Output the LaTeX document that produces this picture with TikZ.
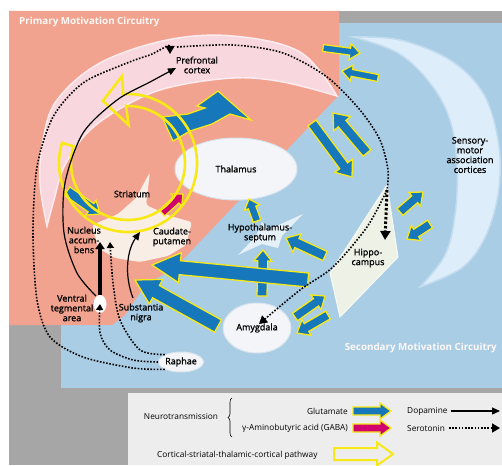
\documentclass[tikz,border=0pt]{standalone}
\usepackage{fontspec}
\setmainfont{Open Sans}
\newfontfamily\lblfont{Open Sans}[FakeBold=1.3]
\usetikzlibrary{calc,arrows.meta,shapes.geometric,decorations.pathreplacing}
\definecolor{salmon}{HTML}{F2A38F}
\definecolor{pinkc}{HTML}{F9D7DE}
\definecolor{pinkb}{HTML}{FCEBEF}
\definecolor{bluebg}{HTML}{A9CDE5}
\definecolor{graybg}{HTML}{A6A6A6}
\definecolor{legbg}{HTML}{EDEDED}
\definecolor{glublue}{HTML}{1677BA}
\definecolor{yel}{HTML}{F7E816}
\definecolor{mag}{HTML}{D0006F}
\definecolor{skyc}{HTML}{DDEEFA}
\definecolor{skyb}{HTML}{C4DCEF}
\definecolor{whitish}{HTML}{F3F5F9}
\definecolor{whb}{HTML}{D9E4EE}
\definecolor{cream}{HTML}{F9EEE6}
\definecolor{hippoc}{HTML}{EEF2E6}
\newcommand\lf{\lblfont\fontsize{9}{9.8}\selectfont}
\newcommand\lgf{\fontsize{8.3}{9}\selectfont}
\newcommand\fatarr[6]{%
 \coordinate (faC) at ($(#3)!#6!(#2)$);
 \draw[#1] ($(#2)!#4!90:(#3)$) -- ($(faC)!#4!90:(#3)$) -- ($(faC)!#5!90:(#3)$) -- (#3) -- ($(faC)!#5!-90:(#3)$) -- ($(faC)!#4!-90:(#3)$) -- ($(#2)!#4!-90:(#3)$) -- cycle;}
\begin{document}
\begin{tikzpicture}[x=1pt,y=-1pt,
  glu/.style={fill=glublue, draw=yel, line width=1.3pt, line join=miter},
  gaba/.style={fill=mag, draw=yel, line width=1.3pt, line join=miter},
  ringst/.style={draw=yel, line width=2.6pt, line join=miter},
  hollow/.style={draw=yel, line width=2pt, fill=legbg, line join=miter},
  dopa/.style={draw=black, line width=1.2pt, -{Triangle[length=8pt,width=7pt]}},
  sero/.style={draw=black, line width=1.6pt, dash pattern=on 1.6pt off 1.6pt, -{Triangle[length=8pt,width=9pt]}},
  serol/.style={draw=black, line width=1.6pt, dash pattern=on 1.6pt off 1.6pt},
  lbl/.style={font=\lf, align=center, inner sep=0pt, text=black},
  ttl/.style={font=\fontsize{9.8}{11}\selectfont\bfseries, text=white!92!salmon, inner sep=0pt},
  blob/.style={fill=whitish, draw=whb, line width=1pt}]
\useasboundingbox (0,0) rectangle (502,465);
\fill[white] (0,0) rectangle (502,465);
\fill[graybg] (9,11) rectangle (502,465);
\fill[bluebg] (61,23) rectangle (502,388);
\fill[salmon] (9,11) -- (339,11) -- (339,95) -- (175,268) -- (145,285) -- (125,315) -- (112,325) -- (9,325) -- cycle;
\fill[legbg] (128,393) rectangle (502,465);
% crescents
\draw[pinkb, line width=1.5pt, fill=pinkc] plot[smooth, tension=0.6] coordinates {(337,96) (300,52) (233,36) (167,40) (100,63) (57,100) (43,140) (40,183) (47,226)} -- plot[smooth, tension=0.6] coordinates {(47,226) (54,200) (64,167) (87,133) (123,107) (167,88) (233,78) (283,82) (337,96)} -- cycle;
\draw[skyb, line width=1.5pt, fill=skyc] plot[smooth,tension=0.6] coordinates {(353,37) (400,40) (450,60) (483,93) (498,140) (499,187) (487,233) (463,267) (420,287)} -- plot[smooth,tension=0.6] coordinates {(420,287) (445,255) (455,215) (457,167) (450,120) (430,83) (398,53) (353,37)} -- cycle;
% structures
\fill[cream, rounded corners=3pt] (92,225) -- (118,214) -- (136,198) -- (150,172) -- (146,205) -- (170,216) -- (192,222) -- (186,245) -- (168,256) -- (140,262) -- (115,258) -- (98,248) -- cycle;
\fill[white!70!bluebg] (238,255) -- (256,236) -- (262,222) -- (268,230) -- (303,214) -- (282,236) -- (278,248) -- (262,244) -- cycle;
\draw[fill=hippoc, draw=white!60!hippoc, line width=1pt] (387,185) -- (398,257) -- (340,317) -- (330,273) -- cycle;
\node[ellipse, blob, minimum width=122pt, minimum height=62pt, font=\lf] (thal) at (236,169) {Thalamus};
\node[ellipse, blob, minimum width=60pt, minimum height=50pt, font=\lf] (amy) at (257,328) {Amygdala};
\node[ellipse, blob, minimum width=38pt, minimum height=20pt, inner sep=0pt, font=\lf] (raph) at (181,362) {Raphae};
\node[ellipse, fill=white, minimum width=13pt, minimum height=18pt, inner sep=0pt] (vta) at (100,304) {};
% glutamate arrows
\coordinate (a1s) at (67,191); \coordinate (a1e) at (100,214);
\coordinate (a3s) at (323,48); \coordinate (a3e) at (360,53);
\coordinate (a4s) at (378,78); \coordinate (a4e) at (342,71);
\coordinate (a5s) at (312,123); \coordinate (a5e) at (352,177);
\coordinate (a6s) at (367,153); \coordinate (a6e) at (333,113);
\coordinate (a7s) at (400,212); \coordinate (a7e) at (423,192);
\coordinate (a8s) at (430,224); \coordinate (a8e) at (407,239);
\coordinate (a9s) at (257,221); \coordinate (a9e) at (249,199);
\coordinate (a10s) at (325,256); \coordinate (a10e) at (286,238);
\coordinate (a11s) at (262,296); \coordinate (a11e) at (263,250);
\coordinate (a12s) at (308,280); \coordinate (a12e) at (152,265);
\coordinate (a13s) at (218,326); \coordinate (a13e) at (135,280);
\coordinate (a14s) at (295,317); \coordinate (a14e) at (325,296);
\coordinate (a15s) at (328,315); \coordinate (a15e) at (297,333);
\coordinate (g1s) at (162,213); \coordinate (g1e) at (183,194);
\fatarr{glu}{a1s}{a1e}{5pt}{9pt}{11pt}
\fatarr{glu}{a3s}{a3e}{3.5pt}{8pt}{10pt}
\fatarr{glu}{a4s}{a4e}{3.5pt}{8pt}{10pt}
\fatarr{glu}{a5s}{a5e}{5pt}{11pt}{14pt}
\fatarr{glu}{a6s}{a6e}{5pt}{11pt}{14pt}
\fatarr{glu}{a7s}{a7e}{4.5pt}{9pt}{11pt}
\fatarr{glu}{a8s}{a8e}{4.5pt}{9pt}{11pt}
\fatarr{glu}{a9s}{a9e}{4pt}{8pt}{9pt}
\fatarr{glu}{a10s}{a10e}{5pt}{10pt}{12pt}
\fatarr{glu}{a11s}{a11e}{5pt}{9pt}{11pt}
\fatarr{glu}{a12s}{a12e}{7pt}{15pt}{28pt}
\fatarr{glu}{a13s}{a13e}{7pt}{14pt}{24pt}
\fatarr{glu}{a14s}{a14e}{4.5pt}{9pt}{11pt}
\fatarr{glu}{a15s}{a15e}{4.5pt}{9pt}{11pt}
\fatarr{gaba}{g1s}{g1e}{4pt}{8pt}{9pt}
\draw[glu] (162,117) -- (188,114) -- (205,108) -- (197,106) -- (218,91) -- (251,120) -- (230,114) -- (212,124) -- (190,131) -- (173,141) -- cycle;
% ring pathway
\coordinate (c) at (128,163);
\draw[ringst] ($(c)+(197:69)$) arc[start angle=197,end angle=-94,radius=69] -- ($(c)+(-94:87)$) -- ($(c)+(-112:67)$) -- ($(c)+(-89:38)$) -- ($(c)+(-92:57)$) arc[start angle=-92,end angle=197,radius=57] -- cycle;
% dopamine
\coordinate (pfcDA) at (176,68);
\coordinate (nacc) at (100,242);
\coordinate (caud) at (140,232);
\coordinate (sn) at (133,298);
\draw[dopa] plot[smooth] coordinates {(96,296) (77,273) (64,233) (65,183) (83,133) (117,100) (150,82) (pfcDA)};
\draw[draw=black, line width=3.2pt, -{Triangle[length=7pt,width=9pt]}] (vta.north) -- (nacc);
\draw[dopa] (sn) .. controls (124,275) and (127,250) .. (caud);
% serotonin
\coordinate (pfcSe) at (170,54);
\coordinate (hipSe) at (385,240);
\coordinate (amySe) at (259,324);
\coordinate (naccSe) at (110,242);
\coordinate (split) at (387,190);
\draw[sero] plot[smooth] coordinates {(raph.south west) (133,368) (83,357) (50,337) (37,300) (33,233) (37,167) (53,117) (83,83) (127,63) (150,55)} .. controls (163,49) and (170,43) .. (pfcSe);
\draw[serol] plot[smooth] coordinates {(177,47) (233,45) (283,53) (327,77) (360,110) (380,140) (388,170) (split)};
\draw[draw=black, line width=3pt, dash pattern=on 2.5pt off 2pt, -{Triangle[length=9pt,width=10pt]}] (split) -- (hipSe);
\draw[sero] plot[smooth] coordinates {(split) (367,227) (333,267) (300,290) (amySe)};
\draw[sero, -{Triangle[length=6pt,width=7pt]}] plot[smooth] coordinates {(raph.west) (133,360) (110,350) (100,333) (vta.center)};
\draw[sero, -{Triangle[length=6pt,width=7pt]}] plot[smooth] coordinates {(raph.north west) (140,350) (120,320) (113,283) (naccSe)};
% labels
\node[ttl, anchor=west] (t1) at (19,22) {Primary Motivation Circuitry};
\node[ttl, anchor=east] (t2) at (497,348) {Secondary Motivation Circuitry};
\node[lbl] (pfc) at (197,65) {Prefrontal\\cortex};
\node[lbl] (smc) at (470,155) {Sensory-\\motor\\association\\cortices};
\node[lbl] (str) at (132,194) {Striatum};
\node[lbl] (nac) at (84,240) {Nucleus\\accum-\\bens};
\node[lbl] (cp) at (172,237) {Caudate-\\putamen};
\node[lbl] (vtal) at (72,308) {Ventral\\tegmental\\area};
\node[lbl] (snl) at (141,313) {Substantia\\nigra};
\node[lbl] (hyp) at (260,233) {Hypothalamus-\\septum};
\node[lbl] (hip) at (368,258) {Hippo-\\campus};
% legend
\node[font=\lgf, inner sep=0pt] (ln) at (181,416) {Neurotransmission};
\draw[decorate, decoration={brace, amplitude=4pt}, line width=0.6pt] (232,437) -- (232,398);
\node[font=\lgf, inner sep=0pt, anchor=east] (lglu) at (348,411) {Glutamate};
\node[font=\lgf, inner sep=0pt, anchor=east] (lgaba) at (348,428) {γ-Aminobutyric acid (GABA)};
\coordinate (lb1) at (353,411); \coordinate (lb2) at (391,411);
\coordinate (lm1) at (353,428); \coordinate (lm2) at (391,428);
\fatarr{glu}{lb1}{lb2}{4pt}{8pt}{11pt}
\fatarr{gaba}{lm1}{lm2}{4pt}{8pt}{11pt}
\node[font=\lgf, inner sep=0pt, anchor=west] (ldop) at (407,411) {Dopamine};
\node[font=\lgf, inner sep=0pt, anchor=west] (lser) at (407,428) {Serotonin};
\coordinate (ld2) at (500,411); \coordinate (ls2) at (500,428);
\draw[dopa] ([xshift=3pt]ldop.east) -- (ld2);
\draw[sero] ([xshift=4pt]lser.east) -- (ls2);
\node[font=\lgf, inner sep=0pt, anchor=west] (lcs) at (157,455) {Cortical-striatal-thalamic-cortical pathway};
\coordinate (lh1) at (334,454); \coordinate (lh2) at (393,454);
\fatarr{hollow}{lh1}{lh2}{6pt}{11.5pt}{16pt}
\end{tikzpicture}
\end{document}
